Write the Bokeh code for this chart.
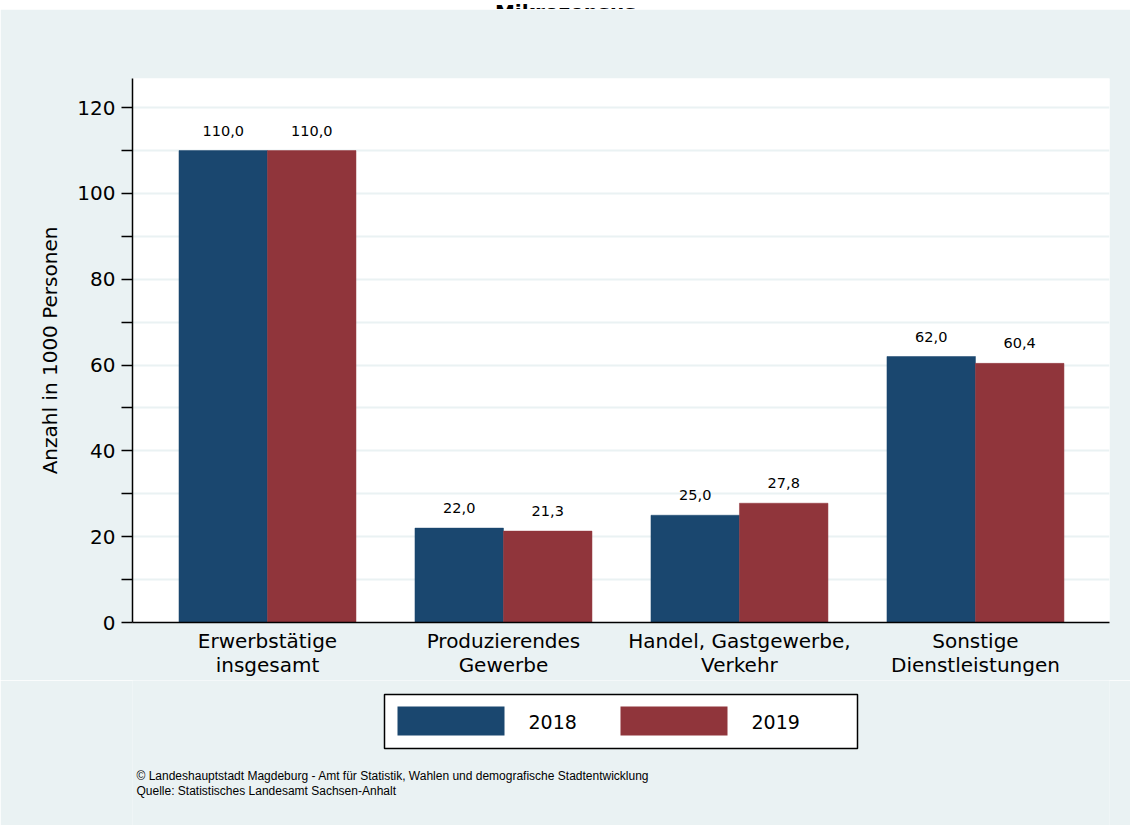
from bokeh.plotting import figure
from bokeh.layouts import column
from bokeh.models import FixedTicker, Range1d, ColumnDataSource
from bokeh.core.properties import value
from bokeh.embed import file_html
from bokeh.resources import INLINE

# ---- data ----
title = "- Mikrozensus -"
categories = ["Erwerbstätige\ninsgesamt", "Produzierendes\nGewerbe",
              "Handel, Gastgewerbe,\nVerkehr", "Sonstige\nDienstleistungen"]
series = ["2018", "2019"]
values_2018 = [110.0, 22.0, 25.0, 62.0]
values_2019 = [110.0, 21.3, 27.8, 60.4]
y_ticks = [0, 20, 40, 60, 80, 100, 120]
y_minor_ticks = [10, 30, 50, 70, 90, 110]
y_axis_title = "Anzahl in 1000 Personen"
footer_lines = ["©  Landeshauptstadt Magdeburg - Amt für Statistik, Wahlen und demografische Stadtentwicklung",
                "Quelle: Statistisches Landesamt Sachsen-Anhalt"]

# ---- style ----
BG = "#eaf2f3"
BLUE = "#1a476f"
RED = "#90353b"
FONT = "DejaVu Sans"
NOTE_FONT = "Liberation Sans"
BAR_W = 0.375
W = 1130
FRAME_L, FRAME_R = 132, 1109   # plot frame edges in page pixels (frames are aligned in the column)


def bare(fig, fill):
    fig.border_fill_color = fill
    fig.background_fill_color = fill
    fig.outline_line_color = None
    fig.grid.visible = False
    return fig


# ---- top strip with the (cut-off) title ----
top = bare(figure(width=W, height=9, output_backend="svg", toolbar_location=None,
                  x_range=Range1d(FRAME_L, FRAME_R), y_range=Range1d(9, 0),
                  min_border=0, x_axis_type=None, y_axis_type=None), "white")
top.text(x=[565], y=[8], text=[title], text_align="center", text_baseline="alphabetic",
         text_font=value(FONT), text_font_style="bold", text_font_size="20px", text_color="black")

# ---- main chart ----
p = figure(width=W, height=671, output_backend="svg", toolbar_location=None,
           x_range=Range1d(-0.572, 3.568), y_range=Range1d(0, 126.8),
           min_border_left=FRAME_L, min_border_right=W - FRAME_R, min_border_top=69,
           min_border_bottom=58)
p.border_fill_color = BG
p.background_fill_color = "white"
p.outline_line_color = None

xs = list(range(len(categories)))
src = ColumnDataSource(dict(
    x18=[x - BAR_W / 2 for x in xs], x19=[x + BAR_W / 2 for x in xs],
    v18=values_2018, v19=values_2019,
    t18=[f"{v:.1f}".replace(".", ",") for v in values_2018],
    t19=[f"{v:.1f}".replace(".", ",") for v in values_2019],
))

p.vbar(x="x18", top="v18", width=BAR_W, source=src, fill_color=BLUE, line_color=BLUE, line_width=0.5)
p.vbar(x="x19", top="v19", width=BAR_W, source=src, fill_color=RED, line_color=RED, line_width=0.5)

for xcol, ycol, tcol in (("x18", "v18", "t18"), ("x19", "v19", "t19")):
    p.text(x=xcol, y=ycol, text=tcol, source=src, text_align="center",
           text_baseline="bottom", y_offset=-15, text_font=value(FONT),
           text_font_size="14.5px", text_color="black")

p.xgrid.grid_line_color = None
p.ygrid.ticker = FixedTicker(ticks=sorted(y_ticks + y_minor_ticks))
p.ygrid.grid_line_color = BG
p.ygrid.grid_line_width = 2

ya = p.yaxis[0]
ya.ticker = FixedTicker(ticks=y_ticks, minor_ticks=y_minor_ticks)
ya.axis_label = y_axis_title
ya.axis_label_text_font = FONT
ya.axis_label_text_font_size = "20px"
ya.axis_label_text_font_style = "normal"
ya.axis_label_text_color = "black"
ya.axis_label_standoff = 12
ya.major_label_text_font = FONT
ya.major_label_text_font_size = "20px"
ya.major_label_text_color = "black"
ya.major_label_standoff = 6
ya.major_tick_out = 11
ya.major_tick_in = 0
ya.minor_tick_out = 11
ya.minor_tick_in = 0
ya.axis_line_color = "black"
ya.axis_line_width = 1.5
ya.major_tick_line_color = "black"
ya.major_tick_line_width = 1.5
ya.minor_tick_line_color = "black"
ya.minor_tick_line_width = 1.5

xa = p.xaxis[0]
xa.ticker = FixedTicker(ticks=xs, minor_ticks=[])
xa.major_label_overrides = {i: c for i, c in zip(xs, categories)}
xa.major_label_text_font = FONT
xa.major_label_text_font_size = "20px"
xa.major_label_text_line_height = 1.03
xa.major_label_text_color = "black"
xa.major_label_standoff = 6
xa.major_tick_line_color = None
xa.minor_tick_line_color = None
xa.major_tick_out = 0
xa.axis_line_color = "black"
xa.axis_line_width = 1.5

# ---- bottom strip: legend and source note (page-pixel x, y downwards) ----
bot = bare(figure(width=W, height=145, output_backend="svg", toolbar_location=None,
                  x_range=Range1d(FRAME_L, FRAME_R), y_range=Range1d(145, 0),
                  min_border=0, x_axis_type=None, y_axis_type=None), BG)
bot.quad(left=[384], right=[857], top=[14], bottom=[68], fill_color="white",
         line_color="black", line_width=1.5)
bot.quad(left=[397, 620], right=[504, 727], top=[26, 26], bottom=[55, 55],
         fill_color=[BLUE, RED], line_color=None)
bot.text(x=[528, 751], y=[41, 41], text=series, text_align="left", text_baseline="middle",
         text_font=value(FONT), text_font_size="19px", text_color="black")
bot.text(x=[136, 136], y=[95, 110], text=footer_lines, text_align="left",
         text_baseline="alphabetic", text_font=value(NOTE_FONT), text_font_size="12px",
         text_color="black")

layout = column(top, p, bot, spacing=0)
open("out.html", "w").write(file_html(layout, INLINE))
